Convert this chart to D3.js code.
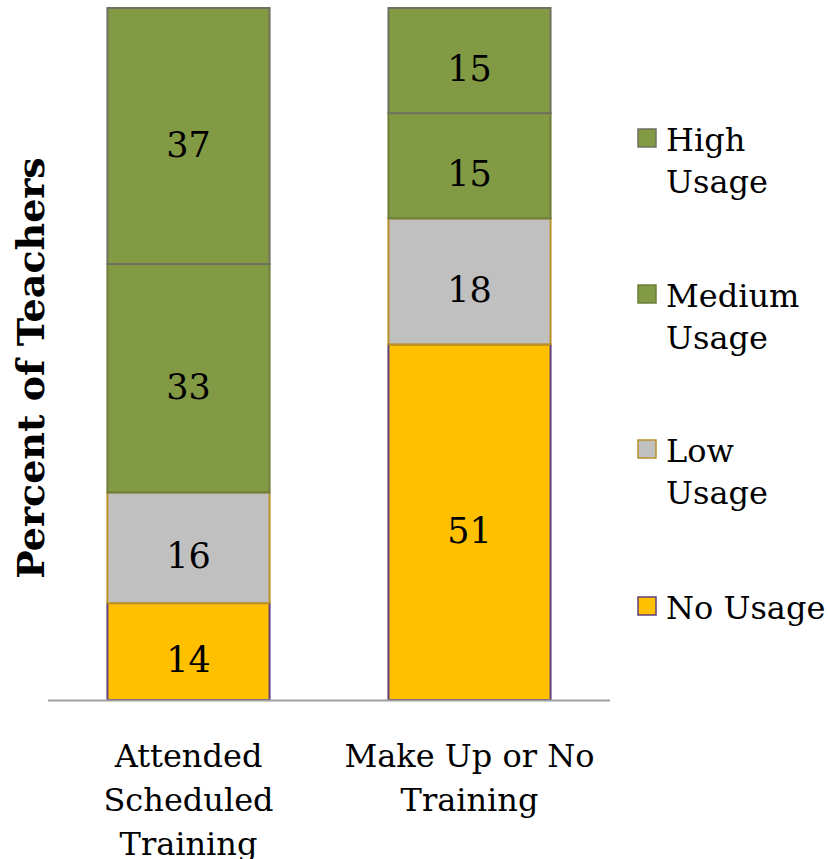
<!DOCTYPE html>
<html><head><meta charset="utf-8">
<script src="https://cdn.jsdelivr.net/npm/d3@7"></script>
<style>body{margin:0;background:#fff}svg{display:block}</style>
</head><body>
<script>
const categories = [["Attended","Scheduled","Training"],["Make Up or No","Training"]];
const seriesNames = ["No Usage","Low Usage","Medium Usage","High Usage"];
const legendLines = [["No Usage"],["Low","Usage"],["Medium","Usage"],["High","Usage"]];
const noUsage = [14, 51.4];
const lowUsage = [16, 18.2];
const mediumUsage = [33, 15.2];
const highUsage = [37, 15.2];
const fills = ["#FFC000","#C0C0C0","#839A45","#839A45"];
const strokes = ["#5F3F7F","#B8902A","#6E7E3A","#707060"];

const W=828,H=859;
const FONT="'DejaVu Serif', serif";
const svg=d3.select("body").append("svg").attr("width",W).attr("height",H);
const x=d3.scaleBand().domain([0,1]).range([48,610]).paddingInner(0.423).paddingOuter(0.2115);
const y=d3.scaleLinear().domain([0,100]).range([700,8]);
const series=[noUsage,lowUsage,mediumUsage,highUsage];
const rows=[0,1].map(i=>{const o={i};seriesNames.forEach((s,k)=>o[s]=series[k][i]);return o;});
const stack=d3.stack().keys(seriesNames)(rows);

stack.forEach((layer,k)=>{
  const g=svg.append("g");
  g.selectAll("rect").data(layer).join("rect")
    .attr("x",d=>x(d.data.i)).attr("width",x.bandwidth())
    .attr("y",d=>y(d[1])).attr("height",d=>y(d[0])-y(d[1]))
    .attr("fill",fills[k]).attr("stroke",strokes[k]).attr("stroke-width",2);
  g.selectAll("text").data(layer).join("text")
    .attr("x",d=>x(d.data.i)+x.bandwidth()/2)
    .attr("y",d=>(y(d[0])+y(d[1]))/2+8)
    .attr("dy","0.36em").attr("text-anchor","middle")
    .attr("font-family",FONT).attr("font-size",35).attr("fill","#000")
    .text(d=>Math.round(d[1]-d[0]));
});

// baseline
svg.append("line").attr("x1",48).attr("x2",610).attr("y1",y(0)+0.5).attr("y2",y(0)+0.5)
  .attr("stroke","#A0A0A0").attr("stroke-width",2);

// category labels
categories.forEach((lines,i)=>{
  const t=svg.append("text").attr("text-anchor","middle")
    .attr("font-family",FONT).attr("font-size",32).attr("fill","#000");
  lines.forEach((l,j)=>t.append("tspan").attr("x",x(i)+x.bandwidth()/2).attr("y",767+j*44).text(l));
});

// y title
svg.append("text").attr("transform","translate(44,368) rotate(-90)")
  .attr("text-anchor","middle").attr("font-family",FONT).attr("font-weight","bold")
  .attr("font-size",38).attr("fill","#000").text("Percent of Teachers");

// legend (top to bottom: High, Medium, Low, No)
const legY=[151,307,462,619];
[3,2,1,0].forEach((k,idx)=>{
  const yy=legY[idx];
  svg.append("rect").attr("x",638).attr("y",yy-22).attr("width",18).attr("height",18)
    .attr("fill",fills[k]).attr("stroke",strokes[k]).attr("stroke-width",1.5);
  const t=svg.append("text").attr("font-family",FONT).attr("font-size",32).attr("fill","#000");
  legendLines[k].forEach((l,j)=>t.append("tspan").attr("x",666).attr("y",yy+j*42).text(l));
});
</script>
</body></html>
